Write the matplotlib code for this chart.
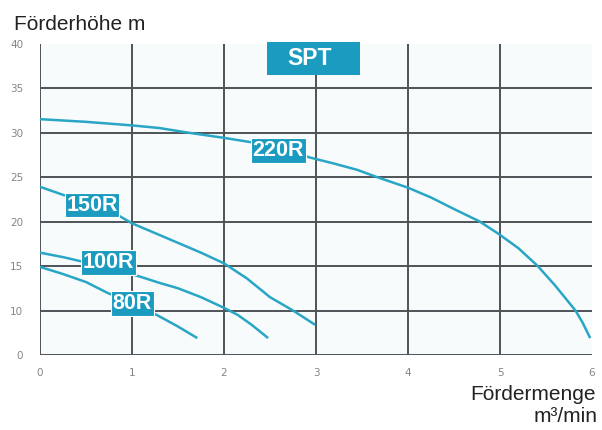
import matplotlib.pyplot as plt
from matplotlib.patches import Rectangle

# pump curves (bottom grid line is labelled 0 but sits at 5)
q_220 = [0, 0.5, 1, 1.3, 1.6, 2, 2.3, 2.6, 2.93, 3.2, 3.45, 3.66, 4.0, 4.25, 4.5, 4.78, 5.0, 5.2, 5.41, 5.6, 5.82, 5.9, 5.98]
h_220 = [31.5, 31.2, 30.8, 30.5, 30.0, 29.4, 28.9, 28.2, 27.2, 26.5, 25.8, 25.0, 23.8, 22.7, 21.4, 20.0, 18.5, 17.0, 15.0, 12.8, 10.0, 8.6, 6.9]
q_150 = [0, 0.25, 0.5, 0.8, 1, 1.25, 1.5, 1.75, 2, 2.25, 2.5, 2.75, 2.99]
h_150 = [23.9, 23.0, 22.1, 21.0, 19.8, 18.7, 17.6, 16.5, 15.3, 13.6, 11.5, 10.0, 8.4]
q_100 = [0, 0.25, 0.5, 0.75, 1.09, 1.3, 1.5, 1.75, 2, 2.15, 2.3, 2.48]
h_100 = [16.5, 16.0, 15.4, 14.8, 13.8, 13.1, 12.5, 11.5, 10.3, 9.5, 8.4, 6.9]
q_80 = [0, 0.25, 0.5, 0.73, 1.0, 1.27, 1.5, 1.71]
h_80 = [14.9, 14.1, 13.2, 12.0, 10.8, 9.5, 8.2, 6.9]

labels = ["220R", "150R", "100R", "80R"]
label_pos = [(2.59, 28.0), (0.565, 21.85), (0.745, 15.4), (1.005, 10.8)]

xticks = [0, 1, 2, 3, 4, 5, 6]
yticks = [5, 10, 15, 20, 25, 30, 35, 40]
ytick_labels = ["0", "10", "15", "20", "25", "30", "35", "40"]

teal = "#1a9bbf"
line_col = "#29a6c6"
grid_col = "#4e5358"
font = "Liberation Sans"

fig = plt.figure(figsize=(6.02, 4.30), dpi=100)
ax = fig.add_axes([0.0664, 0.1744, 0.9170, 0.7244])
ax.set_facecolor("#f7fbfc")

for q, h in [(q_220, h_220), (q_150, h_150), (q_100, h_100), (q_80, h_80)]:
    ax.plot(q, h, color=line_col, lw=1.8, solid_capstyle="butt", solid_joinstyle="round", zorder=3)

# grid, no line at the top and right edge
for x in xticks[:-1]:
    ax.axvline(x, color=grid_col, lw=1.4, zorder=2)
for y in yticks[:-1]:
    ax.axhline(y, color=grid_col, lw=1.4, zorder=2)

for lab, (x, y) in zip(labels, label_pos):
    ax.text(x, y, lab, color="white", fontsize=15.5, fontweight="bold", family=font,
            ha="center", va="center", zorder=5,
            bbox=dict(boxstyle="square,pad=0.08", fc=teal, ec="white", lw=0.8))

# SPT header box
ax.add_patch(Rectangle((2.467, 36.46), 1.011, 3.74, fc=teal, ec="none", zorder=4, clip_on=False))
ax.text(2.93, 38.35, "SPT", color="white", fontsize=16.5, fontweight="bold", family=font,
        ha="center", va="center", zorder=5)

ax.set_xlim(0, 6)
ax.set_ylim(5, 40)
ax.set_xticks(xticks)
ax.set_yticks(yticks)
ax.set_yticklabels(ytick_labels)
ax.tick_params(length=0, labelsize=7.5, colors="#858585")
ax.tick_params(axis="y", pad=12)
ax.tick_params(axis="x", pad=9)
for s in ax.spines.values():
    s.set_visible(False)

fig.text(14 / 602, 1 - 30 / 430, "Förderhöhe m", fontsize=15, family=font, color="#222222",
         va="baseline", ha="left")
fig.text(596 / 602, 1 - 400 / 430, "Fördermenge", fontsize=15, family=font, color="#222222",
         va="baseline", ha="right")
fig.text(598 / 602, 1 - 422 / 430, "m³/min", fontsize=15, family=font, color="#222222",
         va="baseline", ha="right")

plt.savefig("out.png", dpi=100)
